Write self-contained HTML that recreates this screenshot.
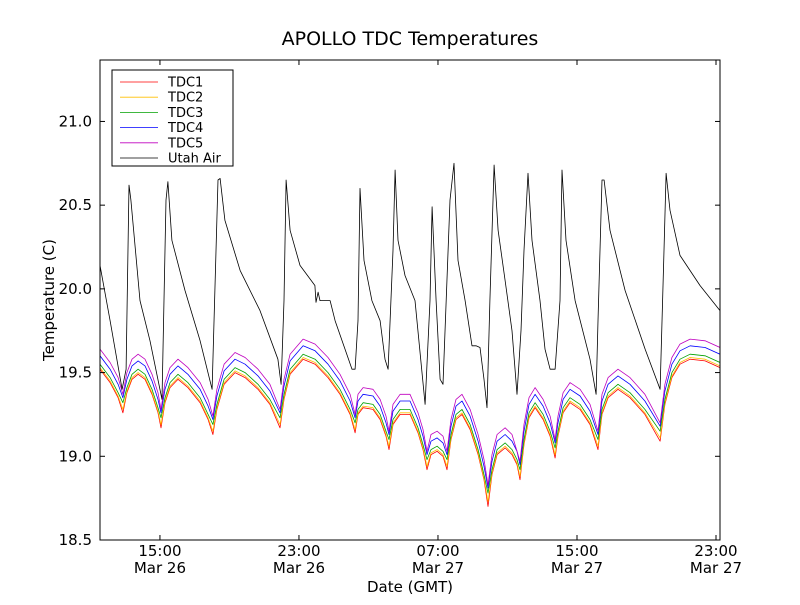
<!DOCTYPE html>
<html><head><meta charset="utf-8"><style>
body{margin:0;background:#fff;font-family:"Liberation Sans","DejaVu Sans",sans-serif}
svg text{font-family:"DejaVu Sans","Liberation Sans",sans-serif}
</style></head><body>
<svg id="c" width="800" height="600" xmlns="http://www.w3.org/2000/svg">
<rect width="800" height="600" fill="#fff"/>
<g id="plot"></g>
</svg>
<script>
const tdcHours=[11.55,12.13,12.59,12.87,13.10,13.39,13.74,14.14,14.54,14.89,15.06,15.29,15.58,16.04,16.61,17.31,17.77,18.05,18.28,18.69,19.32,19.90,20.64,21.33,21.91,22.14,22.49,23.24,23.93,24.67,25.36,25.94,26.23,26.40,26.69,27.26,27.67,28.01,28.18,28.41,28.82,29.39,29.85,30.14,30.37,30.60,30.95,31.29,31.52,31.75,32.04,32.38,32.85,33.31,33.65,33.88,34.11,34.40,34.86,35.26,35.55,35.72,35.95,36.24,36.59,37.05,37.45,37.74,37.91,38.20,38.60,39.18,39.75,40.21,40.44,40.79,41.36,42.05,42.91,43.78,44.06,44.46,44.93,45.51,46.37,47.23];
const tdc1=[19.52,19.44,19.35,19.26,19.38,19.46,19.49,19.46,19.37,19.26,19.17,19.32,19.41,19.46,19.41,19.32,19.22,19.13,19.28,19.43,19.50,19.47,19.40,19.31,19.17,19.34,19.49,19.58,19.55,19.47,19.37,19.25,19.14,19.25,19.29,19.28,19.22,19.12,19.04,19.19,19.25,19.25,19.14,19.04,18.92,19.01,19.03,19.00,18.92,19.10,19.22,19.25,19.16,19.01,18.86,18.70,18.89,19.01,19.05,19.01,18.95,18.86,19.07,19.23,19.29,19.22,19.12,18.99,19.12,19.26,19.32,19.28,19.19,19.04,19.25,19.35,19.40,19.35,19.25,19.09,19.31,19.47,19.55,19.58,19.57,19.53];
const tdc2=[19.53,19.45,19.36,19.28,19.39,19.47,19.50,19.47,19.38,19.27,19.19,19.33,19.42,19.47,19.42,19.33,19.23,19.15,19.29,19.44,19.51,19.48,19.41,19.32,19.19,19.35,19.50,19.59,19.56,19.48,19.38,19.26,19.16,19.26,19.30,19.29,19.23,19.13,19.06,19.20,19.26,19.26,19.15,19.05,18.94,19.02,19.04,19.01,18.94,19.11,19.23,19.26,19.17,19.02,18.87,18.73,18.90,19.02,19.06,19.02,18.96,18.88,19.08,19.24,19.30,19.23,19.13,19.01,19.13,19.27,19.33,19.29,19.20,19.06,19.26,19.36,19.41,19.36,19.26,19.11,19.32,19.48,19.56,19.59,19.58,19.54];
const tdc3=[19.55,19.47,19.38,19.32,19.41,19.49,19.52,19.49,19.40,19.29,19.23,19.35,19.44,19.49,19.44,19.35,19.25,19.19,19.31,19.46,19.53,19.50,19.43,19.34,19.23,19.37,19.52,19.61,19.58,19.50,19.40,19.28,19.20,19.28,19.32,19.31,19.25,19.15,19.10,19.22,19.28,19.28,19.17,19.07,18.98,19.04,19.06,19.03,18.98,19.13,19.25,19.28,19.19,19.04,18.89,18.78,18.92,19.04,19.08,19.04,18.98,18.92,19.10,19.26,19.32,19.25,19.15,19.05,19.15,19.29,19.35,19.31,19.22,19.10,19.28,19.38,19.43,19.38,19.28,19.15,19.34,19.50,19.58,19.61,19.60,19.56];
const tdc4=[19.60,19.52,19.43,19.35,19.46,19.54,19.57,19.54,19.45,19.34,19.26,19.40,19.49,19.54,19.49,19.40,19.30,19.22,19.36,19.51,19.58,19.55,19.48,19.39,19.26,19.42,19.57,19.66,19.63,19.55,19.45,19.33,19.23,19.33,19.37,19.36,19.30,19.20,19.13,19.27,19.33,19.33,19.22,19.12,19.01,19.09,19.11,19.08,19.01,19.18,19.30,19.33,19.24,19.09,18.94,18.81,18.97,19.09,19.13,19.09,19.03,18.95,19.15,19.31,19.37,19.30,19.20,19.08,19.20,19.34,19.40,19.36,19.27,19.13,19.33,19.43,19.48,19.43,19.33,19.18,19.39,19.55,19.63,19.66,19.65,19.61];
const tdc5=[19.64,19.56,19.47,19.37,19.50,19.58,19.61,19.58,19.49,19.38,19.28,19.44,19.53,19.58,19.53,19.44,19.34,19.24,19.40,19.55,19.62,19.59,19.52,19.43,19.28,19.46,19.61,19.70,19.67,19.59,19.49,19.37,19.25,19.37,19.41,19.40,19.34,19.24,19.15,19.31,19.37,19.37,19.26,19.16,19.03,19.13,19.15,19.12,19.03,19.22,19.34,19.37,19.28,19.13,18.98,18.83,19.01,19.13,19.17,19.13,19.03,18.97,19.19,19.35,19.41,19.34,19.24,19.10,19.24,19.38,19.44,19.40,19.31,19.15,19.37,19.47,19.52,19.47,19.37,19.20,19.43,19.59,19.67,19.70,19.69,19.65];
const airHours=[11.55,12.13,12.82,13.05,13.22,13.33,13.85,14.43,15.12,15.35,15.46,15.69,16.44,17.31,18.00,18.34,18.46,18.74,19.61,20.76,21.79,21.97,22.14,22.26,22.49,23.06,23.92,23.98,24.10,24.21,24.79,25.08,25.65,26.05,26.23,26.40,26.51,26.74,27.20,27.67,27.95,28.13,28.41,28.53,28.70,29.10,29.68,30.26,30.54,30.66,30.89,31.12,31.29,31.69,31.92,32.15,32.56,32.96,33.19,33.42,33.65,33.82,33.99,34.23,34.46,34.86,35.26,35.55,35.78,35.95,36.18,36.41,36.87,37.16,37.45,37.74,38.02,38.14,38.37,38.89,39.75,40.10,40.21,40.44,40.56,40.90,41.77,42.92,43.78,44.01,44.13,44.35,44.93,46.08,47.23];
const airTemp=[20.14,19.81,19.40,19.52,20.62,20.53,19.93,19.69,19.34,20.53,20.64,20.29,19.99,19.69,19.40,20.65,20.66,20.41,20.11,19.87,19.58,19.43,19.93,20.65,20.35,20.14,20.02,19.92,19.98,19.93,19.93,19.81,19.64,19.52,19.52,19.81,20.60,20.17,19.93,19.81,19.58,19.52,20.23,20.71,20.29,20.08,19.93,19.31,19.93,20.49,19.93,19.46,19.43,20.53,20.75,20.17,19.93,19.66,19.66,19.65,19.46,19.29,19.93,20.74,20.35,20.05,19.75,19.37,19.75,20.23,20.69,20.29,19.93,19.64,19.52,19.52,19.93,20.71,20.29,19.93,19.58,19.37,19.81,20.65,20.65,20.35,19.99,19.64,19.40,20.23,20.69,20.47,20.20,20.02,19.87];
const yTicks=[18.5,19.0,19.5,20.0,20.5,21.0];
const xTicks=[15,23,31,39,47];
const xTickLabels=[["15:00","Mar 26"],["23:00","Mar 26"],["07:00","Mar 27"],["15:00","Mar 27"],["23:00","Mar 27"]];
const seriesNames=["TDC1","TDC2","TDC3","TDC4","TDC5","Utah Air"];
const seriesColors=["#ff0000","#ffbf00","#00a000","#0000ff","#bf00bf","#000000"];

const L=100,R=720,T=60,B=540,X0=11.55,X1=47.23,Y0=18.5,Y1=21.367;
const sx=h=>L+(h-X0)/(X1-X0)*(R-L);
const sy=v=>B-(v-Y0)/(Y1-Y0)*(B-T);
const NS="http://www.w3.org/2000/svg";
const g=document.getElementById('plot');
function mk(t,a,p){const e=document.createElementNS(NS,t);for(const k in a)e.setAttribute(k,a[k]);(p||g).appendChild(e);return e;}
const clip=mk('clipPath',{id:'cp'});mk('rect',{x:L,y:T,width:R-L,height:B-T},clip);
const allSeries=[[tdcHours,tdc1],[tdcHours,tdc2],[tdcHours,tdc3],[tdcHours,tdc4],[tdcHours,tdc5],[airHours,airTemp]];
allSeries.forEach((s,i)=>{
  const d=s[0].map((h,j)=>(j?'L':'M')+sx(h).toFixed(1)+','+sy(s[1][j]).toFixed(1)).join('');
  const p=mk('path',{d:d,fill:'none',stroke:seriesColors[i],'stroke-width':0.8,'stroke-linejoin':'round','clip-path':'url(#cp)'});
  
  
});
const frame=mk('rect',{x:L,y:T,width:R-L,height:B-T,fill:'none',stroke:'#000','stroke-width':1});


yTicks.forEach(v=>{const y=sy(v);
  mk('line',{x1:L,x2:L+5,y1:y,y2:y,stroke:'#000'});mk('line',{x1:R-5,x2:R,y1:y,y2:y,stroke:'#000'});
  const t=mk('text',{x:L-8,y:y+5,'text-anchor':'end','font-size':15});t.textContent=v.toFixed(1);
  
  
});
xTicks.forEach((h,i)=>{const x=sx(h);
  mk('line',{x1:x,x2:x,y1:B,y2:B-5,stroke:'#000'});mk('line',{x1:x,x2:x,y1:T,y2:T+5,stroke:'#000'});
  const t=mk('text',{x:x,y:B+16,'text-anchor':'middle','font-size':15});t.textContent=xTickLabels[i][0];
  
  
  const t2=mk('text',{x:x,y:B+33,'text-anchor':'middle','font-size':15});t2.textContent=xTickLabels[i][1];
  
  
});
const title=mk('text',{x:410,y:45,'text-anchor':'middle','font-size':19});title.textContent='APOLLO TDC Temperatures';


const xl=mk('text',{x:410,y:592,'text-anchor':'middle','font-size':15});xl.textContent='Date (GMT)';


const yl=mk('text',{x:0,y:0,'text-anchor':'middle','font-size':15,transform:'translate(54,300) rotate(-90)'});yl.textContent='Temperature (C)';


const lg=mk('g',{});


mk('rect',{x:112,y:70,width:121,height:96,fill:'#fff',stroke:'#000'},lg);
seriesNames.forEach((n,i)=>{const y=82+i*15.2;
  const e=mk('g',{},lg);
  
  
  mk('line',{x1:120,x2:158,y1:y,y2:y,stroke:seriesColors[i],'stroke-width':0.8},e);
  const t=mk('text',{x:168,y:y+4.5,'font-size':13},e);t.textContent=n;
});
</script>
</body></html>
